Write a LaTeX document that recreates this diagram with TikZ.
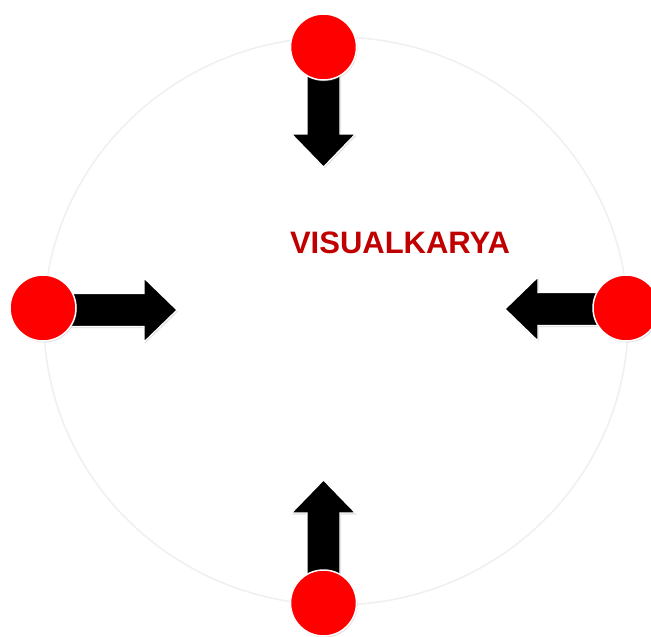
\documentclass[tikz,border=0pt]{standalone}
\usepackage{fontspec}
\setmainfont{Liberation Sans}
\usetikzlibrary{shadows}
\definecolor{ringgray}{HTML}{F0F0F0}
\definecolor{titlered}{HTML}{C00000}
\tikzset{
  ring/.style={draw=ringgray, line width=1.6pt},
  arrowbody/.style={fill=black, draw=white, line width=1.2pt, line join=miter,
    drop shadow={opacity=0.25, shadow xshift=1pt, shadow yshift=-1.5pt}},
  dot/.style={circle, fill=red, draw=white, line width=1.5pt, minimum size=66pt, inner sep=0pt,
    drop shadow={opacity=0.25, shadow xshift=1pt, shadow yshift=-1.5pt}},
  title/.style={font=\bfseries\fontsize{31}{31}\selectfont, text=titlered, inner sep=0pt}
}
% block arrow pointing along +x with its tip at the origin; #4 = total length
\newcommand\blockarrow[4]{%
  \begin{scope}[shift={(#1,#2)}, rotate=#3]
    \path[arrowbody] (-#4,-16.5) -- (-33,-16.5) -- (-33,-32) -- (0,0)
      -- (-33,32) -- (-33,16.5) -- (-#4,16.5) -- cycle;
  \end{scope}}
\begin{document}
\begin{tikzpicture}[x=1pt, y=-1pt]
  \useasboundingbox (0,0) rectangle (651,637);
  % faint outer ring
  \draw[ring] (336,321) ellipse[x radius=292, y radius=284];
  % arrows pointing inwards
  \blockarrow{323.5}{167}{-90}{92}
  \blockarrow{177}{310}{0}{107}
  \blockarrow{505}{309}{180}{100}
  \blockarrow{323.5}{480}{90}{100}
  % red markers
  \node[dot] (top) at (323.5,47) {};
  \node[dot] (left) at (43,308) {};
  \node[dot] (right) at (626,308) {};
  \node[dot] (bottom) at (323.5,603) {};
  % title
  \node[title, anchor=base] (label) at (400,253.5) {VISUALKARYA};
\end{tikzpicture}
\end{document}
